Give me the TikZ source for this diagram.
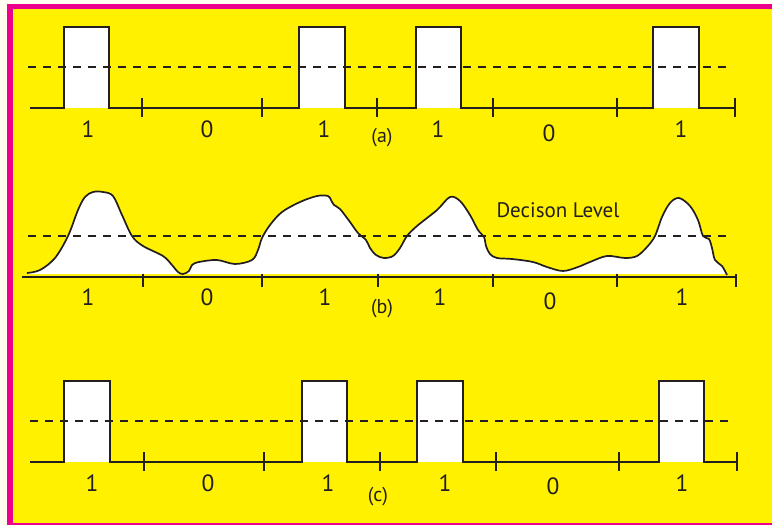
\documentclass[tikz,border=0pt]{standalone}
\usepackage{fontspec}
\setmainfont{PT Sans}
\definecolor{bgyellow}{HTML}{FFF100}
\definecolor{bordermag}{HTML}{EC008C}
\definecolor{offwhite}{HTML}{FFFDF0}
\definecolor{ink}{HTML}{231F20}
\tikzset{
  sig/.style={draw=ink, line width=1.8pt, line join=miter},
  tickmark/.style={draw=ink, line width=1.8pt},
  declevel/.style={draw=ink, line width=1.5pt, dash pattern=on 8pt off 7pt},
  bit/.style={text=ink, font=\fontsize{23.5}{25}\selectfont, anchor=base, inner sep=0pt},
  panelcap/.style={text=ink, font=\fontsize{20}{22}\selectfont, anchor=base, inner sep=0pt},
  dlabel/.style={text=ink, font=\fontsize{21}{23}\selectfont, anchor=base, inner sep=0pt},
}
\begin{document}
\begin{tikzpicture}[x=1pt,y=-1pt]
\useasboundingbox (0,0) rectangle (772,525);
% background and frame
\fill[offwhite] (0,0) rectangle (772,525);
\fill[bordermag] (7,4) rectangle (772,525);
\fill[bgyellow] (13,9) rectangle (772,523);

% ---------- panel (a) ----------
\foreach \a/\b in {64/109,299/345,416/461,653/699}
  \fill[white] (\a,27) rectangle (\b,108);
\draw[declevel] (28,67) -- (730,67);
\draw[sig] (30,108) -- (64,108) -- (64,27) -- (109,27) -- (109,108)
  -- (299,108) -- (299,27) -- (345,27) -- (345,108)
  -- (416,108) -- (416,27) -- (461,27) -- (461,108)
  -- (653,108) -- (653,27) -- (699,27) -- (699,108) -- (735,108);
\foreach \t in {142,262,377,493,617,735}
  \draw[tickmark] (\t,98) -- (\t,117);
\node[bit] (a1) at (88,137) {1};
\node[bit] (a2) at (207,137) {0};
\node[bit] (a3) at (324,137) {1};
\node[bit] (a4) at (438,137) {1};
\node[bit] (a5) at (549,141) {0};
\node[bit] (a6) at (681,137) {1};
\node[panelcap] (capa) at (382,142) {(a)};

% ---------- panel (b) ----------
\def\wave{(27,273) (40,270) (55,258) (68,236) (78,210) (85,197) (93,192) (103,192) (113,196) (122,215) (132,236) (143,246) (163,256) (172,265) (178,272) (183,274) (189,271) (192,265) (199,262) (217,260) (235,264) (252,260) (258,250) (262,238) (270,225) (282,212) (300,202) (317,196) (328,196) (331,200) (334,205) (340,209) (350,222) (358,233) (366,240) (370,248) (376,255) (384,258) (393,256) (400,248) (407,236) (417,226) (437,210) (450,197) (460,201) (470,215) (478,230) (484,237) (486,246) (490,254) (497,258) (512,259) (533,262) (547,267) (563,271) (578,267) (590,262) (607,256) (625,258) (637,256) (647,247) (655,236) (662,217) (670,203) (679,198) (690,206) (698,220) (703,236) (709,239) (712,248) (715,260) (722,266) (727,275)}
\fill[white] plot[smooth, tension=0.55] coordinates {\wave} -- (727,274) -- (27,274) -- cycle;
\draw[declevel] (28,236) -- (730,236);
\draw[sig, line width=1.7pt] plot[smooth, tension=0.55] coordinates {\wave};
\draw[sig] (22,277) -- (736,277);
\foreach \t in {143,262,378,493,617,736}
  \draw[tickmark] (\t,274) -- (\t,287);
\node[dlabel] (dec) at (558,217) {Decison Level};
\node[bit] (b1) at (88,305) {1};
\node[bit] (b2) at (207,305) {0};
\node[bit] (b3) at (325,305) {1};
\node[bit] (b4) at (440,305) {1};
\node[bit] (b5) at (550,309) {0};
\node[bit] (b6) at (682,305) {1};
\node[panelcap] (capb) at (382,313) {(b)};

% ---------- panel (c) ----------
\foreach \a/\b in {64/110,302/347,417/463,659/704}
  \fill[white] (\a,381) rectangle (\b,462);
\draw[declevel] (30,421) -- (733,421);
\draw[sig] (30,462) -- (64,462) -- (64,381) -- (110,381) -- (110,462)
  -- (302,462) -- (302,381) -- (347,381) -- (347,462)
  -- (417,462) -- (417,381) -- (463,381) -- (463,462)
  -- (659,462) -- (659,381) -- (704,381) -- (704,462) -- (737,462);
\foreach \t in {144,264,380,496,619,737}
  \draw[tickmark] (\t,452) -- (\t,471);
\node[bit] (c1) at (92,491) {1};
\node[bit] (c2) at (208,491) {0};
\node[bit] (c3) at (328,491) {1};
\node[bit] (c4) at (445,491) {1};
\node[bit] (c5) at (553,494) {0};
\node[bit] (c6) at (682,491) {1};
\node[panelcap] (capc) at (378,501) {(c)};
\end{tikzpicture}
\end{document}
